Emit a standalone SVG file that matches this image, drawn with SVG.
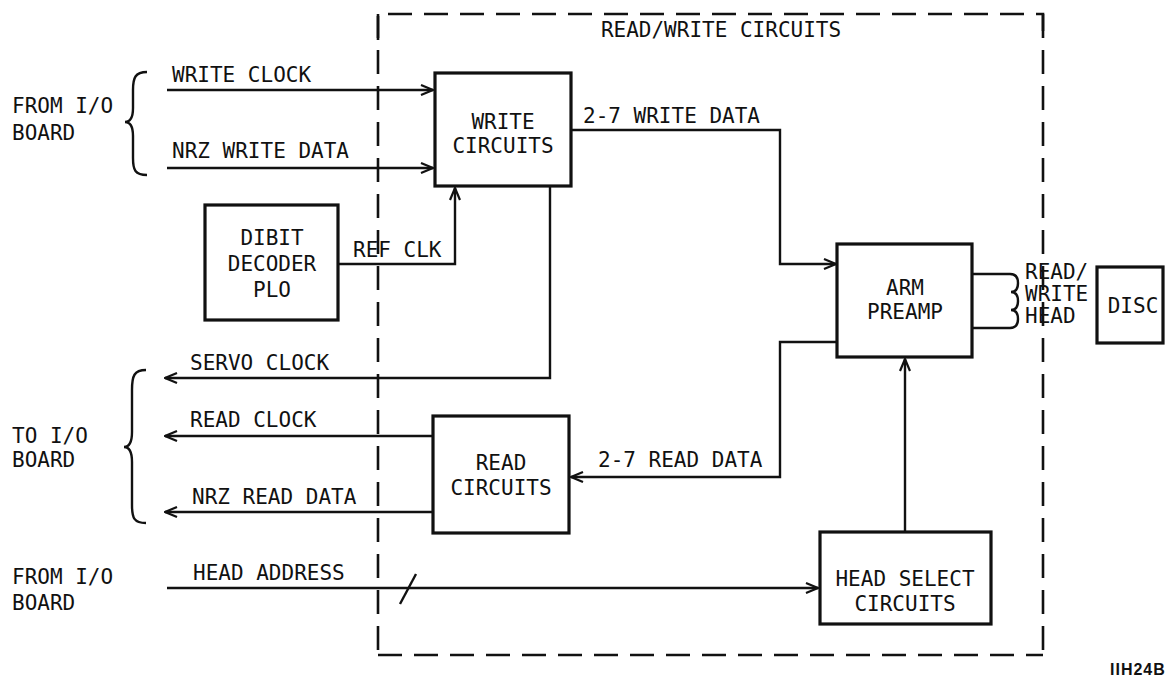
<svg xmlns="http://www.w3.org/2000/svg" width="1165" height="684" viewBox="0 0 1165 684">
<style>
text{font-family:"DejaVu Sans Mono","Liberation Mono",monospace;font-size:21px;fill:#111}
.c{text-anchor:middle}
.box{fill:#fff;stroke:#111;stroke-width:3.2}
.ln{fill:none;stroke:#111;stroke-width:2.4}
.dash{fill:none;stroke:#111;stroke-width:2.6;stroke-dasharray:24 12}
</style>
<defs>
<marker id="ah" markerWidth="14" markerHeight="12" refX="13" refY="6" orient="auto" markerUnits="userSpaceOnUse">
<path d="M1,1 L13,6 L1,11" fill="none" stroke="#111" stroke-width="2.2"/>
</marker>
</defs>
<rect width="1165" height="684" fill="#fff"/>
<g id="boundary">
<path class="dash" d="M378,40 V14 H1043 V40"/>
<path class="dash" d="M378,14 V655"/>
<path class="dash" d="M1043,14 V655"/>
<path class="dash" d="M378,655 H1043"/>
<text class="c" x="721" y="37">READ/WRITE CIRCUITS</text>
</g>
<g id="labels-left">
<text x="12" y="113">FROM I/O</text>
<text x="12" y="140">BOARD</text>
<text x="12" y="443">TO I/O</text>
<text x="12" y="467">BOARD</text>
<text x="12" y="584">FROM I/O</text>
<text x="12" y="610">BOARD</text>
<path class="ln" d="M147,72 C135,72 133,78 133,90 L133,108 C133,117 130,122 125,122 C130,122 133,127 133,136 L133,158 C133,170 135,175 147,175"/>
<path class="ln" d="M146,370 C134,370 132,376 132,390 L132,432 C132,442 129,447 124,447 C129,447 132,452 132,462 L132,505 C132,518 134,523 146,523"/>
</g>
<g id="connectors">
<line class="ln" x1="167" y1="90" x2="433" y2="90" marker-end="url(#ah)"/>
<text x="172" y="82">WRITE CLOCK</text>
<line class="ln" x1="167" y1="168" x2="433" y2="168" marker-end="url(#ah)"/>
<text x="172" y="158">NRZ WRITE DATA</text>
<polyline class="ln" points="338,264 455,264 455,188" marker-end="url(#ah)"/>
<text x="353" y="257">REF CLK</text>
<polyline class="ln" points="571,130 780,130 780,264 836,264" marker-end="url(#ah)"/>
<text x="583" y="123">2-7 WRITE DATA</text>
<polyline class="ln" points="550,186 550,378 165,378" marker-end="url(#ah)"/>
<text x="190" y="370">SERVO CLOCK</text>
<line class="ln" x1="433" y1="436" x2="165" y2="436" marker-end="url(#ah)"/>
<text x="190" y="427">READ CLOCK</text>
<line class="ln" x1="433" y1="512" x2="165" y2="512" marker-end="url(#ah)"/>
<text x="192" y="504">NRZ READ DATA</text>
<polyline class="ln" points="837,342 780,342 780,477 571,477" marker-end="url(#ah)"/>
<text x="598" y="467">2-7 READ DATA</text>
<line class="ln" x1="167" y1="588" x2="818" y2="588" marker-end="url(#ah)"/>
<line class="ln" x1="400" y1="604" x2="416" y2="574"/>
<text x="193" y="580">HEAD ADDRESS</text>
<line class="ln" x1="905" y1="532" x2="905" y2="359" marker-end="url(#ah)"/>
<path class="ln" d="M972,274 H1010 Q1018,274 1018,283 Q1018,292 1011,292 Q1018,292 1018,301 Q1018,310 1011,310 Q1018,310 1018,319 Q1018,328 1010,328 H972"/>
</g>
<g id="write-circuits">
<rect class="box" x="435" y="73" width="136" height="113"/>
<text class="c" x="503" y="129">WRITE</text>
<text class="c" x="503" y="153">CIRCUITS</text>
</g>
<g id="dibit-decoder">
<rect class="box" x="205" y="205" width="133" height="115"/>
<text class="c" x="272" y="245">DIBIT</text>
<text class="c" x="272" y="271">DECODER</text>
<text class="c" x="272" y="297">PLO</text>
</g>
<g id="arm-preamp">
<rect class="box" x="837" y="244" width="135" height="113"/>
<text class="c" x="905" y="295">ARM</text>
<text class="c" x="905" y="319">PREAMP</text>
</g>
<g id="rw-head">
<text x="1025" y="279">READ/</text>
<text x="1025" y="301">WRITE</text>
<text x="1025" y="323">HEAD</text>
</g>
<g id="disc">
<rect class="box" x="1097" y="267" width="66" height="76"/>
<text class="c" x="1133" y="313">DISC</text>
</g>
<g id="read-circuits">
<rect class="box" x="433" y="416" width="136" height="117"/>
<text class="c" x="501" y="470">READ</text>
<text class="c" x="501" y="495">CIRCUITS</text>
</g>
<g id="head-select">
<rect class="box" x="820" y="532" width="171" height="92"/>
<text class="c" x="905" y="586">HEAD SELECT</text>
<text class="c" x="905" y="611">CIRCUITS</text>
</g>
<text x="1110" y="675" style="font-family:'Liberation Sans',Arial,sans-serif;font-weight:bold;font-size:16px;letter-spacing:1px">IIH24B</text>
</svg>
